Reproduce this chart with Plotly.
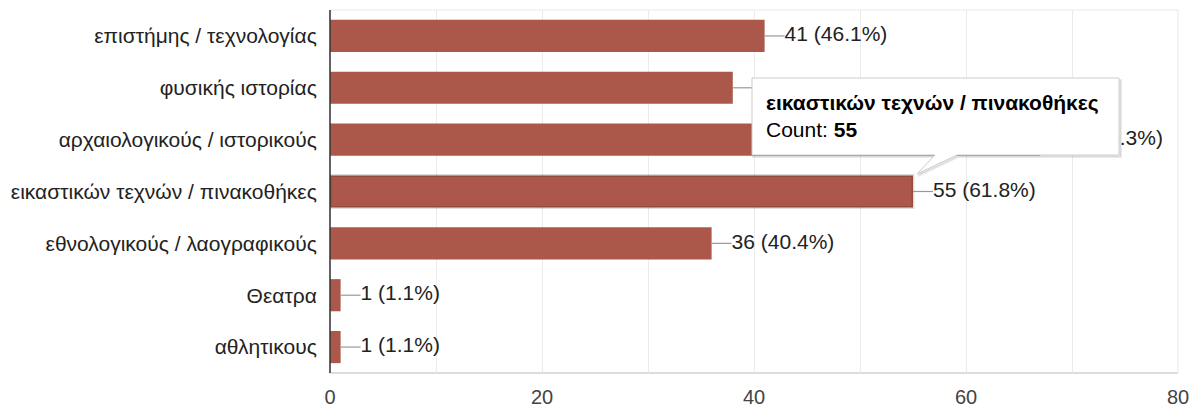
import plotly.graph_objects as go

# Museum types and number of responses
categories = [
    "επιστήμης / τεχνολογίας",
    "φυσικής ιστορίας",
    "αρχαιολογικούς / ιστορικούς",
    "εικαστικών τεχνών / πινακοθήκες",
    "εθνολογικούς / λαογραφικούς",
    "Θεατρα",
    "αθλητικους",
]
counts = [41, 38, 67, 55, 36, 1, 1]
total_respondents = 89
highlighted = "εικαστικών τεχνών / πινακοθήκες"
x_ticks = [0, 20, 40, 60, 80]

BAR_COLOR = "#ab5749"
FONT = "Liberation Sans, Arial, sans-serif"
W, H = 1196, 408
L, R, T, B = 330, 18, 10, 35
plot_w = W - L - R
plot_h = H - T - B
x_max = x_ticks[-1]

def px_x(p):
    return (p - L) / plot_w

def px_y(p):
    return (H - B - p) / plot_h

labels = [f"{c} ({c / total_respondents * 100:.1f}%)" for c in counts]
gap = 20 * x_max / plot_w  # connector length in data units

line_colors = ["rgba(0,0,0,0.13)" if c == highlighted else BAR_COLOR for c in categories]
line_widths = [3 if c == highlighted else 0 for c in categories]

fig = go.Figure()
fig.add_trace(go.Bar(
    x=counts, y=categories, orientation="h",
    marker=dict(color=BAR_COLOR, line=dict(color=line_colors, width=line_widths)),
    hoverinfo="skip",
))

# connectors from bar ends to value labels
cx, cy = [], []
for c, cat in zip(counts, categories):
    cx += [c, c + gap, None]
    cy += [cat, cat, None]
fig.add_trace(go.Scatter(
    x=cx, y=cy, mode="lines",
    line=dict(color="#999999", width=1.2), hoverinfo="skip",
))
fig.add_trace(go.Scatter(
    x=[c + gap for c in counts], y=categories, mode="text",
    text=labels, textposition="middle right",
    textfont=dict(family=FONT, size=21, color="#222222"),
    hoverinfo="skip", cliponaxis=False,
))

# tooltip callout
bx0, bx1, by0, by1 = 752, 1119, 78, 155
tip_path = (
    f"M {px_x(bx0)},{px_y(by0)} L {px_x(bx1)},{px_y(by0)} "
    f"L {px_x(bx1)},{px_y(by1)} L {px_x(957)},{px_y(by1)} "
    f"L {px_x(917)},{px_y(174)} L {px_x(935)},{px_y(by1)} "
    f"L {px_x(bx0)},{px_y(by1)} Z"
)
shadow_path = (
    f"M {px_x(bx0 + 1)},{px_y(by0 + 2)} L {px_x(bx1 + 2)},{px_y(by0 + 2)} "
    f"L {px_x(bx1 + 2)},{px_y(by1 + 2)} L {px_x(958)},{px_y(by1 + 2)} "
    f"L {px_x(918)},{px_y(176)} L {px_x(936)},{px_y(by1 + 2)} "
    f"L {px_x(bx0 + 1)},{px_y(by1 + 2)} Z"
)
shapes = [
    dict(type="rect", xref="paper", yref="paper", x0=0, x1=1, y0=0, y1=1,
         line=dict(color="#e8e8e8", width=1), layer="below"),
    dict(type="line", xref="paper", yref="paper", x0=0, x1=1, y0=0, y1=0,
         line=dict(color="#dddddd", width=2), layer="below"),
    dict(type="line", xref="paper", yref="paper", x0=0, x1=0, y0=0, y1=1,
         line=dict(color="#333333", width=1.5), layer="above"),
    dict(type="path", xref="paper", yref="paper", path=shadow_path,
         fillcolor="rgba(0,0,0,0.08)", line=dict(color="rgba(0,0,0,0.08)", width=2),
         layer="above"),
    dict(type="path", xref="paper", yref="paper", path=tip_path,
         fillcolor="white", line=dict(color="#cccccc", width=1), layer="above"),
]

annotations = [
    dict(xref="paper", yref="paper", x=px_x(764), y=px_y(116),
         xanchor="left", yanchor="middle", align="left", showarrow=False,
         text=f"<b>{highlighted}</b><br>Count: <b>{counts[categories.index(highlighted)]}</b>",
         font=dict(family=FONT, size=21, color="#000000")),
]

fig.update_layout(
    width=W, height=H,
    margin=dict(l=L, r=R, t=T, b=B, autoexpand=False),
    paper_bgcolor="white", plot_bgcolor="white",
    showlegend=False, bargap=0.38,
    font=dict(family=FONT, size=21, color="#222222"),
    shapes=shapes, annotations=annotations,
    xaxis=dict(
        range=[0, x_max], tickvals=x_ticks, showgrid=True, automargin=False,
        gridcolor="#ebebeb", gridwidth=1, zeroline=False, showline=False,
        ticks="outside", ticklen=6, tickcolor="rgba(0,0,0,0)",
        tickfont=dict(family=FONT, size=20, color="#444444"),
        minor=dict(dtick=10, showgrid=True, gridcolor="#ebebeb", gridwidth=1),
        fixedrange=True,
    ),
    yaxis=dict(
        autorange="reversed", showgrid=False, zeroline=False, showline=False,
        automargin=False,
        ticks="outside", ticklen=8, tickcolor="rgba(0,0,0,0)",
        tickfont=dict(family=FONT, size=21, color="#222222"),
        fixedrange=True,
    ),
)

fig.write_html("out.html", config={"displayModeBar": False})
